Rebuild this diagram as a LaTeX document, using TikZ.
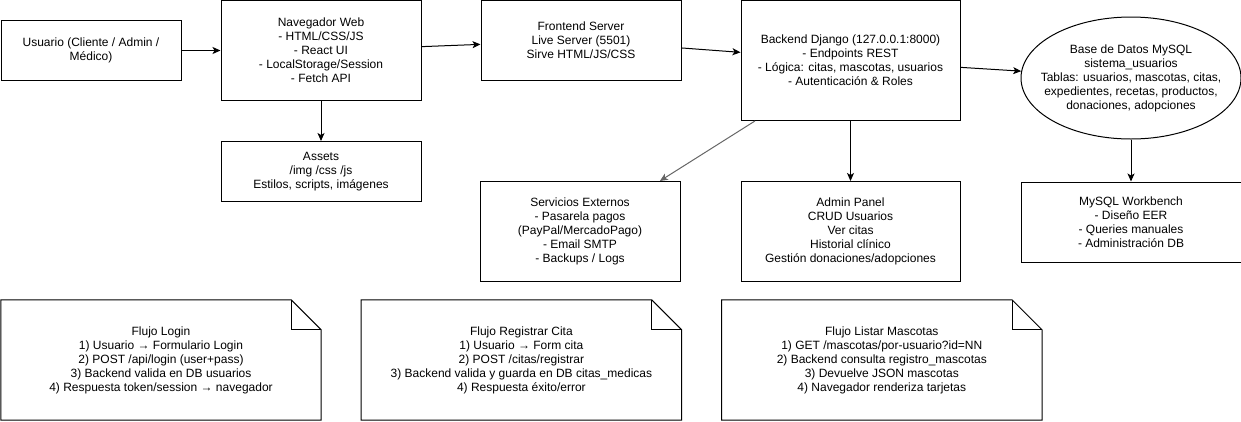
\documentclass[tikz,border=0pt]{standalone}
\usepackage{fontspec}
\setmainfont{Liberation Sans}
\usepackage{tikz}
\usetikzlibrary{shapes.geometric, arrows.meta, positioning}

\begin{document}
\begin{tikzpicture}[
	x=1pt, y=-1pt,
	font=\fontsize{12}{14}\selectfont,
	box/.style = {rectangle, draw, line width=1pt, text centered, inner sep=0pt, align=center},
	dbshape/.style = {ellipse, draw, line width=1pt, minimum width=220pt, minimum height=122pt, inner sep=0pt},
	note/.style = {rectangle, minimum width=320pt, minimum height=120pt, inner sep=0pt, align=center},
	line/.style = {draw, line width=1pt, -{Stealth[length=8pt, width=7pt, inset=2pt]}}
	]
	\useasboundingbox (0,0) rectangle (1241,421);
	
	% Top row
	\node [box, minimum width=180pt, minimum height=60pt] (usuario) at (91,50.5) {Usuario (Cliente / Admin /\\Médico)};
	\node [box, right=39pt of usuario, minimum width=200pt, minimum height=100pt] (nav) {Navegador Web\\- HTML/CSS/JS\\- React UI\\- LocalStorage/Session\\- Fetch API};
	\node [box, minimum width=200pt, minimum height=80pt] (front) at (581,40.5) {Frontend Server\\Live Server (5501)\\Sirve HTML/JS/CSS};
	\node [box, minimum width=219pt, minimum height=120pt] (back) at (850.5,60.5) {Backend Django (127.0.0.1:8000)\\- Endpoints REST\\- Lógica: citas, mascotas, usuarios\\- Autenticación \& Roles};
	\node [dbshape] (db) at (1131,78) {};
	\node [align=center] (dbtext) at (db) {Base de Datos MySQL\\sistema\_usuarios\\Tablas: usuarios, mascotas, citas,\\expedientes, recetas, productos,\\donaciones, adopciones};
	
	% Second row
	\node [box, below=40pt of nav, minimum width=200pt, minimum height=60pt] (assets) {Assets\\/img /css /js\\Estilos, scripts, imágenes};
	\node [box, below=60pt of back, minimum width=219pt, minimum height=100pt] (admin) {Admin Panel\\CRUD Usuarios\\Ver citas\\Historial clínico\\Gestión donaciones/adopciones};
	\node [box, left=60pt of admin, minimum width=200pt, minimum height=100pt] (servicios) {Servicios Externos\\- Pasarela pagos\\(PayPal/MercadoPago)\\- Email SMTP\\- Backups / Logs};
	\node [box, below=42pt of db, minimum width=220pt, minimum height=80pt] (workbench) {MySQL Workbench\\- Diseño EER\\- Queries manuales\\- Administración DB};
	
	% Flow notes
	\node [note] (login) at (161,360) {Flujo Login\\1) Usuario → Formulario Login\\2) POST /api/login (user+pass)\\3) Backend valida en DB usuarios\\4) Respuesta token/session → navegador};
	\node [note, right=40pt of login] (cita) {Flujo Registrar Cita\\1) Usuario → Form cita\\2) POST /citas/registrar\\3) Backend valida y guarda en DB citas\_medicas\\4) Respuesta éxito/error};
	\node [note, right=40pt of cita] (listar) {Flujo Listar Mascotas\\1) GET /mascotas/por-usuario?id=NN\\2) Backend consulta registro\_mascotas\\3) Devuelve JSON mascotas\\4) Navegador renderiza tarjetas};
	
	\foreach \n in {login, cita, listar} {
		\draw [line width=1pt, line join=miter] (\n.north west) -- ([xshift=-30pt]\n.north east) -- ([yshift=-30pt]\n.north east) -- (\n.south east) -- (\n.south west) -- cycle;
		\draw [line width=1pt] ([xshift=-30pt]\n.north east) -- ([xshift=-30pt, yshift=-30pt]\n.north east) -- ([yshift=-30pt]\n.north east);
	}
	
	% Lines
	\path [line] (usuario) -- (nav);
	\path [line] (nav) -- (front);
	\path [line] (front) -- (back);
	\path [line] (back) -- (db);
	\path [line] (nav) -- (assets);
	\path [line, draw=black!60] (back) -- (servicios);
	\path [line] (back) -- (admin);
	\path [line] (db) -- (workbench);
\end{tikzpicture}
\end{document}
